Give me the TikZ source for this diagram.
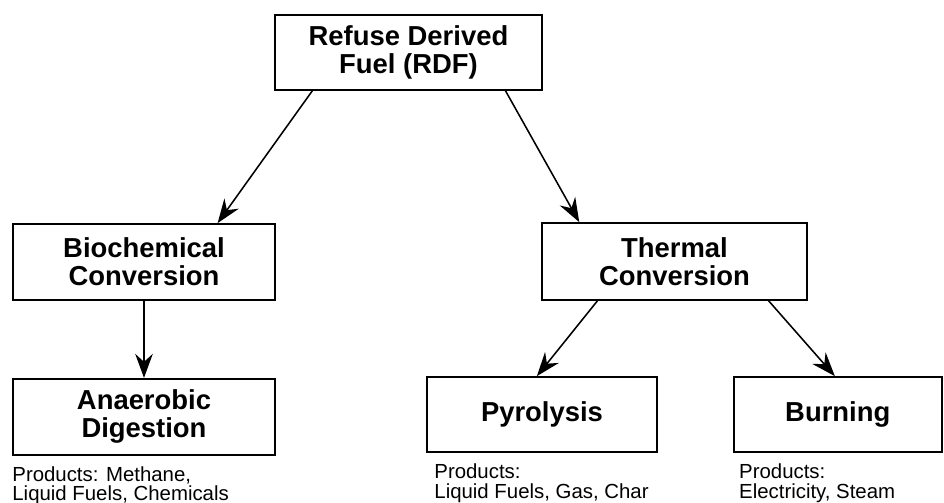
\documentclass[tikz,border=0pt]{standalone}
\usepackage{fontspec}
\setmainfont{Liberation Sans}
\usetikzlibrary{arrows.meta,positioning,calc}
\tikzset{
  procbox/.style={draw=black,line width=1.2pt,align=center,inner sep=2pt,font=\fontsize{19.5}{20}\selectfont\bfseries,fill=white},
  prodnote/.style={align=left,anchor=north west,inner sep=0pt,font=\fontsize{14.5}{14}\selectfont},
  flowarrow/.style={-{Stealth[length=6mm,width=4.4mm,inset=2mm]},line width=1.1pt,draw=black}
}

\begin{document}
\begin{tikzpicture}[x=0.025cm,y=-0.025cm]
\useasboundingbox (0,0) rectangle (944,503);
\node[procbox,minimum width=6.675cm,minimum height=1.875cm] (rdf) at (408.5,52.5) {Refuse Derived\\Fuel (RDF)};
\node[procbox,minimum width=6.55cm,minimum height=1.9cm] (bio) at (144,262) {Biochemical\\Conversion};
\node[procbox,minimum width=6.625cm,minimum height=1.925cm] (therm) at (674.5,261.5) {Thermal\\Conversion};
\node[procbox,below=1.925cm of bio,minimum width=6.55cm,minimum height=1.9cm] (anae) {Anaerobic\\Digestion};
\node[procbox,minimum width=5.75cm,minimum height=1.875cm] (pyro) at (542,414.5) {Pyrolysis};
\node[procbox,right=1.875cm of pyro,minimum width=5.2cm,minimum height=1.875cm] (burn) {Burning};
% arrows leave and meet the box edges off-centre
\draw[flowarrow] ($(rdf.south west)!0.142!(rdf.south east)$) -- ($(bio.north west)!0.779!(bio.north east)$);
\draw[flowarrow] ($(rdf.south west)!0.861!(rdf.south east)$) -- ($(therm.north west)!0.143!(therm.north east)$);
\draw[flowarrow] (bio.south) -- (anae.north);
\draw[flowarrow] ($(therm.south west)!0.211!(therm.south east)$) -- ($(pyro.north west)!0.478!(pyro.north east)$);
\draw[flowarrow] ($(therm.south west)!0.853!(therm.south east)$) -- ($(burn.north west)!0.486!(burn.north east)$);
% product notes under the bottom row
\node[prodnote] (anaeprod) at ([yshift=-0.26cm]anae.south west) {Products: Methane,\\Liquid Fuels, Chemicals};
\node[prodnote] (pyroprod) at ([xshift=0.2cm,yshift=-0.26cm]pyro.south west) {Products:\\Liquid Fuels, Gas, Char};
\node[prodnote] (burnprod) at ([xshift=0.15cm,yshift=-0.26cm]burn.south west) {Products:\\Electricity, Steam};
\end{tikzpicture}
\end{document}
